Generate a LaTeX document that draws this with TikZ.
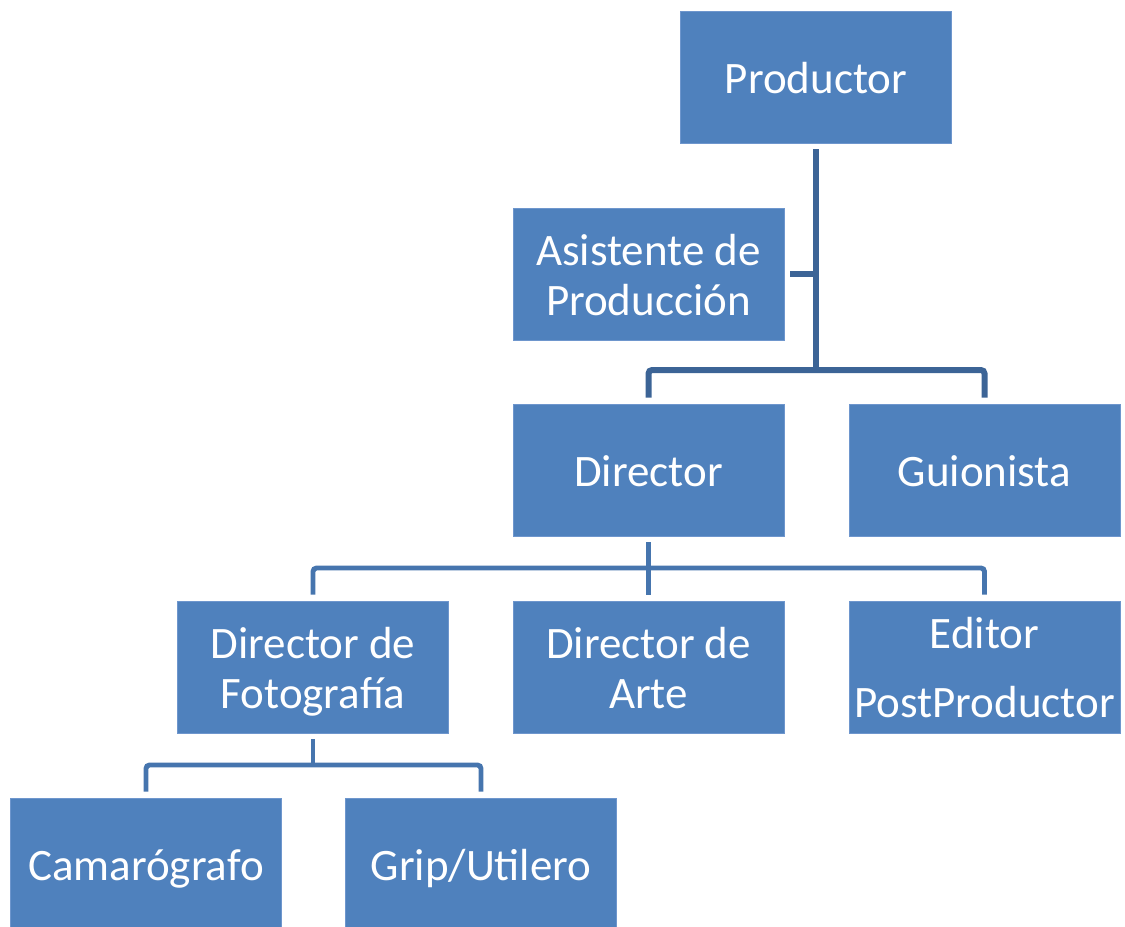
\documentclass[tikz,border=0pt]{standalone}
\usepackage{fontspec}
\setmainfont{Carlito}
\definecolor{caja}{RGB}{79,129,189}
\definecolor{borde}{RGB}{110,150,205}
\definecolor{tronco}{RGB}{60,100,150}
\definecolor{rama}{RGB}{70,117,174}
\newcommand{\arriba}{\rule{0pt}{26.8pt}}
\tikzset{
  puesto/.style={fill=caja, draw=borde, line width=0.5pt, minimum width=5.42cm, minimum height=2.64cm,
    text=white, align=center, inner sep=0pt, font=\fontsize{25.6}{28.5}\selectfont,
    execute at begin node=\arriba, execute at end node=\strut},
  lineatronco/.style={draw=tronco, line width=3.4pt},
  linearama/.style={draw=rama, line width=2.8pt, rounded corners=2pt}
}

\begin{document}
\begin{tikzpicture}
                \useasboundingbox (0,0) rectangle (22.5,-18.52);
                \node[puesto] (prod) at (16.32,-1.54) {Productor};
                \node[puesto] (asis) at (12.97,-5.48) {\arriba Asistente de\\Producción};
                \node[puesto] (dir) at (12.97,-9.40) {Director};
                \node[puesto] (guion) at (19.69,-9.40) {Guionista};
                \node[puesto] (dfoto) at (6.26,-13.34) {\arriba Director de\\Fotografía};
                \node[puesto] (darte) at (12.97,-13.34) {\arriba Director de\\Arte};
                \node[puesto] (editor) at (19.69,-13.34) {\arriba Editor\\[11pt]PostProductor};
                \node[puesto] (camara) at (2.92,-17.28) {Camarógrafo};
                \node[puesto] (grip) at (9.62,-17.28) {Grip/Utilero};
                \coordinate (bar1) at (16.32,-7.40);
                \coordinate (bar2) at (12.97,-11.36);
                \coordinate (bar3) at (6.26,-15.30);
                % productor
                \draw[lineatronco] ([yshift=-3.4pt]prod.south) -- (bar1);
                \draw[lineatronco] ([xshift=3.4pt]asis.east) -- (asis.east -| bar1);
                \draw[lineatronco, rounded corners=2pt] ([yshift=3.4pt]dir.north) -- (dir.north |- bar1) -- (guion.north |- bar1) -- ([yshift=3.4pt]guion.north);
                % director
                \draw[linearama] ([yshift=-3.4pt]dir.south) -- (bar2);
                \draw[linearama] ([yshift=3.4pt]dfoto.north) -- (dfoto.north |- bar2) -- (editor.north |- bar2) -- ([yshift=3.4pt]editor.north);
                \draw[linearama] (bar2) -- ([yshift=3.4pt]darte.north);
                % fotografia
                \draw[linearama] ([yshift=-3.4pt]dfoto.south) -- (bar3);
                \draw[linearama] ([yshift=3.4pt]camara.north) -- (camara.north |- bar3) -- (grip.north |- bar3) -- ([yshift=3.4pt]grip.north);
            \end{tikzpicture}
\end{document}
